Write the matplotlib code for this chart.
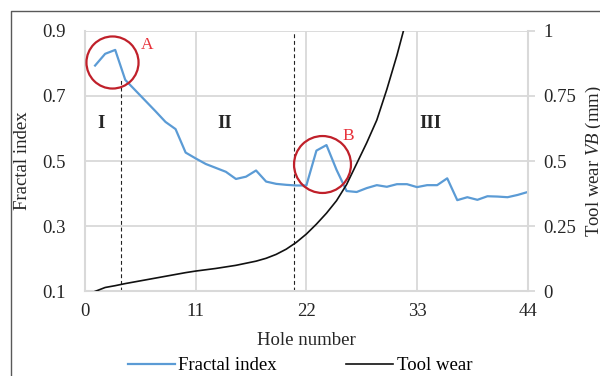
import matplotlib
matplotlib.use("Agg")
import matplotlib.pyplot as plt
from matplotlib.lines import Line2D

plt.rcParams['font.family'] = ['Liberation Serif', 'DejaVu Serif']
plt.rcParams['mathtext.fontset'] = 'custom'
plt.rcParams['mathtext.it'] = 'Liberation Serif:italic'
plt.rcParams['mathtext.rm'] = 'Liberation Serif'

holes = list(range(1, 45))
fractal_index = [0.793, 0.829, 0.841, 0.749, 0.717, 0.685, 0.653, 0.620, 0.598, 0.526,
                 0.508, 0.491, 0.479, 0.467, 0.445, 0.452, 0.471, 0.437, 0.430, 0.427,
                 0.425, 0.425, 0.532, 0.549, 0.473, 0.408, 0.405, 0.417, 0.426, 0.421,
                 0.429, 0.429, 0.420, 0.426, 0.426, 0.447, 0.380, 0.389, 0.381, 0.392,
                 0.391, 0.389, 0.396, 0.405]

wear_holes = list(range(1, 33))
tool_wear = [0.0, 0.015, 0.022, 0.030, 0.037, 0.044, 0.051, 0.058, 0.065, 0.072,
             0.078, 0.083, 0.088, 0.094, 0.100, 0.108, 0.116, 0.127, 0.142, 0.162,
             0.188, 0.220, 0.258, 0.300, 0.348, 0.410, 0.490, 0.570, 0.657, 0.775,
             0.905, 1.050]

x_ticks = [0, 11, 22, 33, 44]
left_ticks = [0.1, 0.3, 0.5, 0.7, 0.9]
right_ticks = [0, 0.25, 0.5, 0.75, 1]
right_labels = ['0', '0.25', '0.5', '0.75', '1']

stage_labels = ['I', 'II', 'III']
stage_x = [1.6, 13.9, 34.3]
stage_y = 0.615

boundaries = [3.6, 20.8]
boundary_tops = [0.748, 0.9]

circle_x = [2.65, 23.6]
circle_y = [0.805, 0.491]
circle_size = [37.5, 41]
circle_names = ['A', 'B']
circle_label_x = [6.2, 26.2]
circle_label_y = [0.855, 0.578]

FS = 13.5
grid_c = '#D9D9D9'
blue = '#5B9BD5'

fig = plt.figure(figsize=(6.0, 3.76), dpi=100)
ax = fig.add_axes([0.1417, 0.2250, 0.7378, 0.6934])
ax2 = ax.twinx()

ax.set_xlim(0, 44)
ax.set_ylim(0.1, 0.9)
ax2.set_ylim(0, 1)

ax.set_xticks(x_ticks)
ax.set_yticks(left_ticks)
ax.set_yticklabels([f'{v:.1f}' for v in left_ticks])
ax2.set_yticks(right_ticks)
ax2.set_yticklabels(right_labels)

ax.grid(True, color=grid_c, linewidth=1.3)
ax.set_axisbelow(True)
for a in (ax, ax2):
    for s in ['top', 'left', 'right', 'bottom']:
        a.spines[s].set_visible(False)
ax.spines['left'].set_visible(True)
ax.spines['left'].set_color(grid_c)
ax.spines['left'].set_linewidth(1.5)
ax.spines['bottom'].set_visible(True)
ax.spines['bottom'].set_color(grid_c)
ax.spines['bottom'].set_linewidth(1.5)
ax2.spines['right'].set_visible(True)
ax2.spines['right'].set_color(grid_c)
ax2.spines['right'].set_linewidth(1.5)

ax.tick_params(axis='both', length=0, labelsize=FS, colors='#262626', pad=8)
ax.tick_params(axis='y', pad=14)
ax2.tick_params(axis='y', length=5, width=1.3, color=grid_c, labelsize=FS,
                labelcolor='#262626', pad=6, direction='out')

for b, t in zip(boundaries, boundary_tops):
    ax.plot([b, b], [0.1, t], color='#222222', linestyle=(0, (3.5, 2.5)), linewidth=0.8, zorder=2)

line1, = ax.plot(holes, fractal_index, color=blue, linewidth=1.6, zorder=3)
line2, = ax2.plot(wear_holes, tool_wear, color='#111111', linewidth=1.2, zorder=3, clip_on=True)

for cx, cy, cs, nm, lx, ly in zip(circle_x, circle_y, circle_size, circle_names,
                                   circle_label_x, circle_label_y):
    ax.plot([cx], [cy], marker='o', markersize=cs, markerfacecolor='none',
            markeredgecolor='#C0202A', markeredgewidth=1.6, zorder=4)
    ax.text(lx, ly, nm, color='#E8333C', fontsize=12.5, ha='center', va='center', zorder=5)

for lab, sx in zip(stage_labels, stage_x):
    ax.text(sx, stage_y, lab, fontsize=FS, fontweight='bold', color='#262626',
            ha='center', va='center')

ax.set_xlabel('Hole number', fontsize=FS, color='#262626', labelpad=9)
ax.set_ylabel('Fractal index', fontsize=FS, color='#262626', labelpad=8)
ax2.set_ylabel(r'Tool wear $\mathit{VB}$ (mm)', fontsize=FS, color='#262626', labelpad=6)

fig.legend([line1, line2], ['Fractal index', 'Tool wear'], loc='center',
           bbox_to_anchor=(0.500, 0.027), ncol=2, frameon=False, fontsize=FS,
           handlelength=2.5, columnspacing=3.7, handletextpad=0.2)

fig.add_artist(Line2D([11/600, 11/600, 1.0], [0.0, 1 - 11/376, 1 - 11/376],
                      transform=fig.transFigure, color='#595959', linewidth=1.0))

fig.savefig('out.png', dpi=100)
